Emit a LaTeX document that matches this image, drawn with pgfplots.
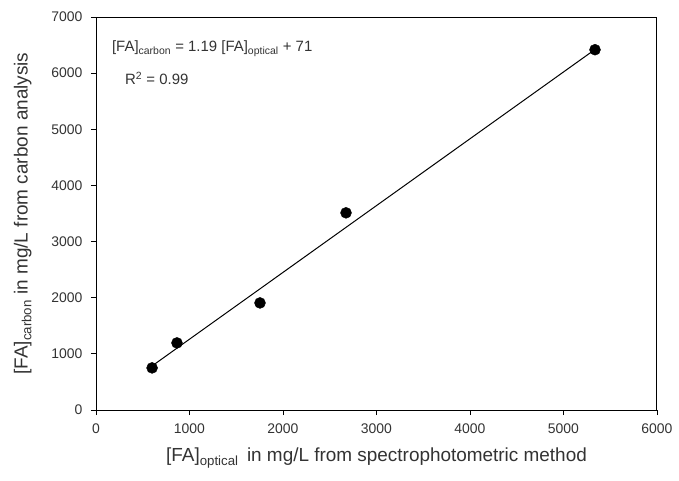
\documentclass[border=0pt]{standalone}
\usepackage{fontspec}
\setmainfont{Liberation Sans}
\usepackage{pgfplots}
\pgfplotsset{compat=1.18}

\begin{document}
\begin{tikzpicture}
\path[use as bounding box] (-96bp,-71bp) rectangle (583bp,410bp);
\begin{axis}[
  scale only axis,
  width=561bp, height=393bp,
  xmin=0, xmax=6000, ymin=0, ymax=7000,
  xtick={0,1000,...,6000}, ytick={0,1000,...,7000},
  axis line style={line width=1pt},
  tick style={line width=0.8pt, black},
  tick align=outside,
  major tick length=5bp,
  xtick pos=bottom, ytick pos=left,
  scaled ticks=false,
  /pgf/number format/assume math mode=true,
  /pgf/number format/1000 sep={},
  ticklabel style={font=\fontsize{14}{16}\selectfont, text=black!80},
  xticklabel style={yshift=-5bp},
  yticklabel style={xshift=-5bp},
  label style={font=\fontsize{19}{21}\selectfont, text=black!80},
  xlabel={[FA]\textsubscript{optical}\, in mg/L from spectrophotometric method},
  ylabel={[FA]\textsubscript{carbon} in mg/L from carbon analysis},
  xlabel style={yshift=-8bp},
  ylabel style={yshift=13bp},
]
% regression line: [FA]carbon = 1.19 [FA]optical + 71
\addplot[black, line width=1pt, no marks] coordinates {(600,785) (5337,6422)};
% measured samples
\addplot[only marks, mark=*, mark size=5.5bp, black] coordinates {
  (600,750) (866,1195) (1754,1907) (2674,3512) (5337,6417)
};
\node[anchor=base west, font=\fontsize{15}{17}\selectfont, text=black!80, inner sep=0pt]
  at (axis cs:170,6380) {[FA]\textsubscript{carbon} = 1.19 [FA]\textsubscript{optical} + 71};
\node[anchor=base west, font=\fontsize{15}{17}\selectfont, text=black!80, inner sep=0pt]
  at (axis cs:310,5790) {R\textsuperscript{2} = 0.99};
\end{axis}
\end{tikzpicture}
\end{document}
